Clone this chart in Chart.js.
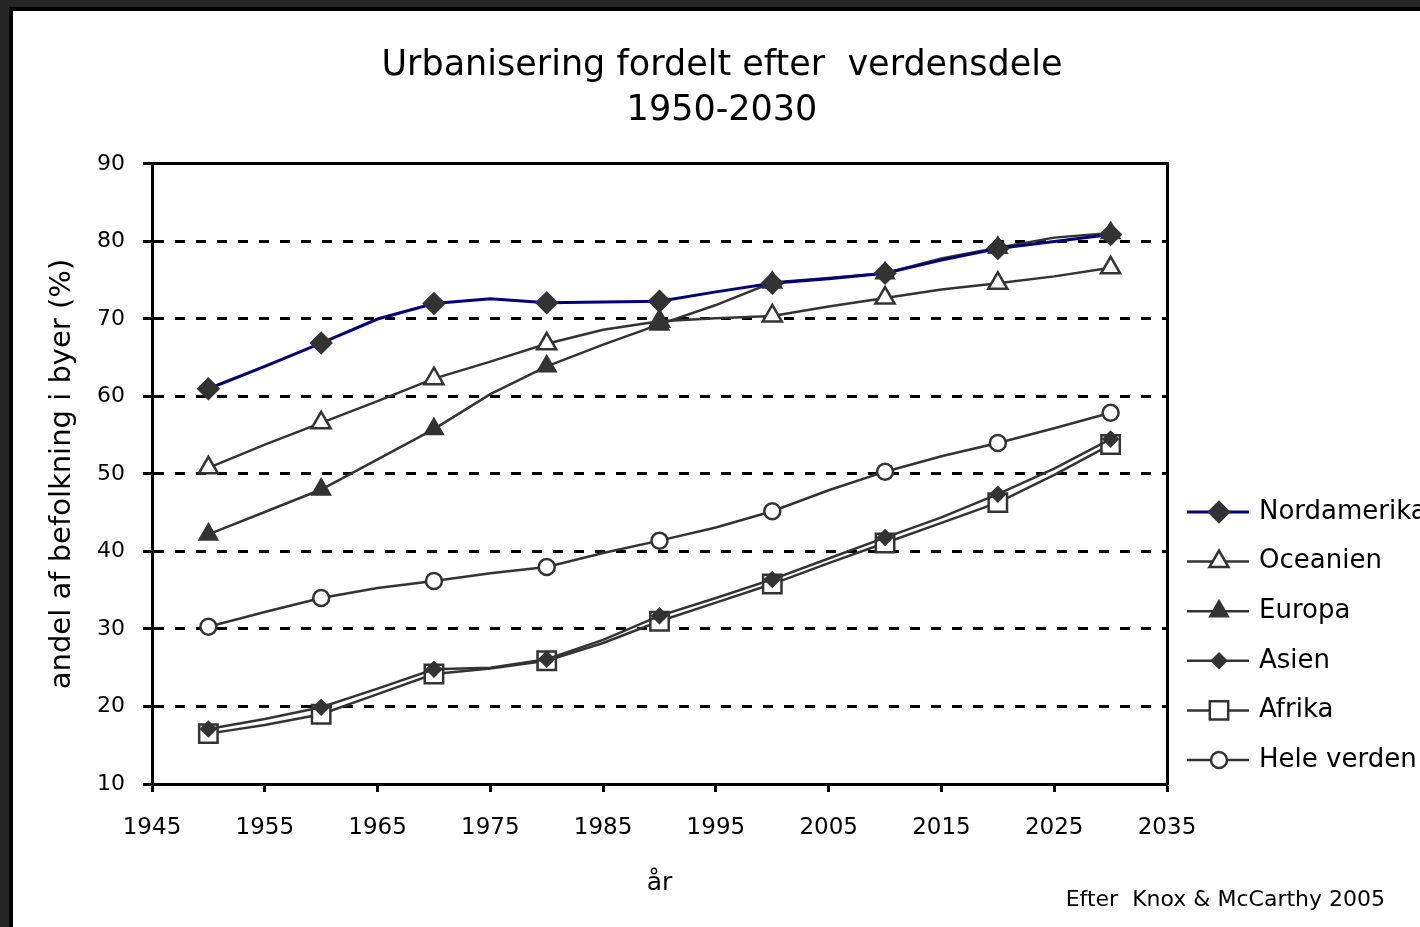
<!DOCTYPE html>
<html><head><meta charset="utf-8">
<script src="https://cdn.jsdelivr.net/npm/chart.js@4.4.1/dist/chart.umd.min.js"></script>
<style>
html,body{margin:0;padding:0;background:#262626;width:1420px;height:927px;overflow:hidden}
#frame{position:absolute;left:9px;top:7px;width:1411px;height:920px;background:#fff;border-left:4px solid #000;border-top:4px solid #000;box-sizing:border-box}
#c{position:absolute;left:13px;top:11px}
</style></head><body>
<div id="frame"></div>
<canvas id="c" width="1407" height="916" style="width:1407px;height:916px"></canvas>
<script>
// ---- data ----
const years = [1950,1955,1960,1965,1970,1975,1980,1985,1990,1995,2000,2005,2010,2015,2020,2025,2030];
const seriesNames = ['Nordamerika','Oceanien','Europa','Asien','Afrika','Hele verden'];
const nordamerika = [61.0,63.9,66.9,70.0,72.0,72.6,72.1,72.2,72.3,73.5,74.6,75.2,75.9,77.6,79.1,80.0,80.9];
const oceanien    = [50.8,53.8,56.6,59.4,62.3,64.5,66.8,68.6,69.7,70.1,70.4,71.6,72.7,73.8,74.6,75.5,76.6];
const europa      = [42.2,45.1,48.0,51.9,55.8,60.3,63.9,66.7,69.3,71.8,74.7,75.3,75.9,77.8,79.2,80.5,81.1];
const asien       = [17.1,18.4,19.9,22.3,24.8,25.0,26.1,28.6,31.7,34.0,36.4,39.1,41.8,44.4,47.4,50.7,54.5];
const afrika      = [16.5,17.6,19.0,21.6,24.2,24.9,25.9,28.2,31.0,33.4,35.8,38.5,41.1,43.7,46.3,49.9,53.8];
const heleVerden  = [30.3,32.2,34.0,35.3,36.2,37.2,38.0,39.8,41.4,43.1,45.2,47.9,50.3,52.3,54.0,55.9,57.9];
const xRange = [1945, 2035];   // x tick labels 1945 ... 2035
const xStep = 10;
const yRange = [10, 90];       // y tick labels 10 ... 90
const yStep = 10;
const titleLines = ['Urbanisering fordelt efter  verdensdele', '1950-2030'];
const yTitle = 'andel af befolkning i byer (%)';
const xTitle = 'år';
const sourceNote = 'Efter  Knox & McCarthy 2005';

// ---- styles ----
const FONT = '"DejaVu Sans", "Liberation Sans", Arial, sans-serif';
const GRAY = '#333333';
const styles = [
  {color:'#000080', lw:3,   ps:'rectRot',  r:10, fill:GRAY,      order:0},
  {color:GRAY,      lw:2.5, ps:'triangle', r:11, fill:'#ffffff', order:2},
  {color:GRAY,      lw:2.5, ps:'triangle', r:10, fill:GRAY,      order:1},
  {color:GRAY,      lw:2.5, ps:'rectRot',  r:7,  fill:GRAY,      order:3},
  {color:GRAY,      lw:2.5, ps:'rect',     r:13, fill:'#ffffff', order:4},
  {color:GRAY,      lw:2.5, ps:'circle',   r:8,  fill:'#ffffff', order:5}
];
const seriesValues = [nordamerika, oceanien, europa, asien, afrika, heleVerden];

const datasets = seriesValues.map((vals, i) => {
  const s = styles[i];
  return {
    label: seriesNames[i],
    data: years.map((yr, k) => ({x: yr, y: vals[k]})),
    order: s.order,
    borderColor: s.color,
    borderWidth: s.lw,
    pointStyle: s.ps,
    pointRadius: years.map(yr => (yr % 10 === 0 ? s.r : 0)),
    pointBackgroundColor: s.fill,
    pointBorderColor: GRAY,
    pointBorderWidth: 2.5,
    tension: 0,
    fill: false,
    legendRadius: s.r
  };
});

function drawMarker(ctx, style, r, x, y) {
  ctx.beginPath();
  if (style === 'circle') {
    ctx.arc(x, y, r, 0, Math.PI * 2);
  } else if (style === 'triangle') {
    for (let k = 0; k < 3; k++) {
      const a = k * 2 * Math.PI / 3;
      const px = x + Math.sin(a) * r, py = y - Math.cos(a) * r;
      if (k === 0) ctx.moveTo(px, py); else ctx.lineTo(px, py);
    }
    ctx.closePath();
  } else if (style === 'rect') {
    const s = Math.SQRT1_2 * r;
    ctx.rect(x - s, y - s, 2 * s, 2 * s);
  } else { // rectRot
    ctx.moveTo(x - r, y); ctx.lineTo(x, y - r); ctx.lineTo(x + r, y); ctx.lineTo(x, y + r);
    ctx.closePath();
  }
  ctx.fill();
  ctx.stroke();
}

const sideLegend = {
  id: 'sideLegend',
  afterDraw(chart) {
    const ctx = chart.ctx;
    const a = chart.chartArea;
    const x0 = a.right + 20, x1 = a.right + 82, xm = a.right + 52, xt = a.right + 92;
    chart.data.datasets.forEach((ds, i) => {
      const y = a.top + 348 + 49.6 * i;
      ctx.save();
      ctx.strokeStyle = ds.borderColor; ctx.lineWidth = ds.borderWidth;
      ctx.beginPath(); ctx.moveTo(x0, y); ctx.lineTo(x1, y); ctx.stroke();
      ctx.fillStyle = ds.pointBackgroundColor; ctx.strokeStyle = ds.pointBorderColor; ctx.lineWidth = ds.pointBorderWidth;
      drawMarker(ctx, ds.pointStyle, ds.legendRadius, xm, y);
      ctx.fillStyle = '#000'; ctx.font = '26px ' + FONT;
      ctx.textBaseline = 'middle'; ctx.textAlign = 'left';
      ctx.fillText(ds.label, xt, y);
      ctx.restore();
    });
    // source note
    ctx.save();
    ctx.fillStyle = '#000'; ctx.font = '22px ' + FONT;
    ctx.textAlign = 'right'; ctx.textBaseline = 'middle';
    ctx.fillText(sourceNote, a.right + 218, a.bottom + 116);
    ctx.restore();
  }
};

new Chart(document.getElementById('c'), {
  type: 'line',
  data: {datasets},
  options: {
    responsive: false,
    animation: false,
    events: [],
    devicePixelRatio: 1,
    layout: {padding: {left: 11, right: 0, top: 0, bottom: 0}},
    plugins: {
      legend: {display: false},
      tooltip: {enabled: false},
      title: {
        display: true, text: titleLines, color: '#000',
        font: {family: FONT, size: 35, weight: 'normal', lineHeight: 1.2857},
        padding: {top: 32.5, bottom: 0}
      }
    },
    scales: {
      x: {
        type: 'linear', position: 'bottom', min: xRange[0], max: xRange[1],
        ticks: {stepSize: xStep, callback: v => String(v), color: '#000', font: {family: FONT, size: 23}, padding: 22, maxRotation: 0},
        grid: {drawOnChartArea: false, drawTicks: true, tickLength: 8, tickWidth: 3, tickColor: '#000'},
        border: {display: true, width: 3, color: '#000'},
        title: {display: true, text: xTitle, color: '#000', font: {family: FONT, size: 25}, padding: {top: 0, bottom: 29}},
        afterFit: s => { s.height = 143; }
      },
      xT: {
        type: 'linear', position: 'top', min: xRange[0], max: xRange[1],
        ticks: {display: false},
        grid: {display: false, drawTicks: false},
        border: {display: true, width: 3, color: '#000'},
        afterFit: s => { s.height = 30.5; }
      },
      y: {
        type: 'linear', position: 'left', min: yRange[0], max: yRange[1],
        ticks: {stepSize: yStep, color: '#000', font: {family: FONT, size: 22}, padding: 18},
        grid: {
          color: c => (c.tick && (c.tick.value === yRange[0] || c.tick.value === yRange[1])) ? 'rgba(0,0,0,0)' : '#000',
          lineWidth: 3, tickLength: 9, tickWidth: 3, tickColor: '#000'
        },
        border: {display: true, width: 3, color: '#000', dash: [10, 11]},
        title: {display: true, text: yTitle, color: '#000', font: {family: FONT, size: 29, lineHeight: 1.2}, padding: {top: 20.6, bottom: 0}},
        afterFit: s => { s.width = 128; }
      },
      yR: {
        type: 'linear', position: 'right', min: yRange[0], max: yRange[1],
        ticks: {display: false},
        grid: {display: false, drawTicks: false},
        border: {display: true, width: 3, color: '#000'},
        afterFit: s => { s.width = 253; }
      }
    }
  },
  plugins: [sideLegend]
});
</script>
</body></html>
